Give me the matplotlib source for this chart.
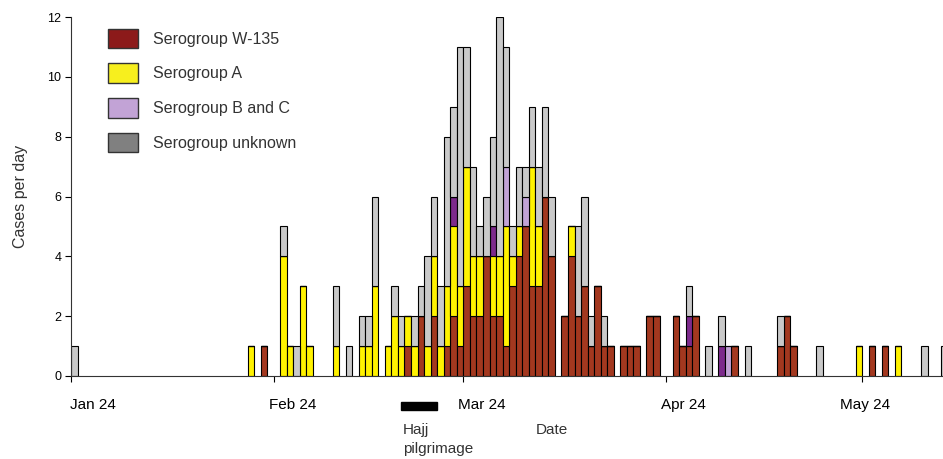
import numpy as np
import matplotlib
matplotlib.use('Agg')
import matplotlib.pyplot as plt
import matplotlib.transforms as mtransforms
from matplotlib.patches import Patch, Rectangle

plt.rcParams['font.family'] = ['Liberation Sans', 'DejaVu Sans']

# day 0 = Jan 24 (2000)
days    = [0, 27, 29, 32, 33, 34, 35, 36, 40, 42, 44, 45, 46, 48, 49, 50, 51, 52, 53, 54,
           55, 56, 57, 58, 59, 60, 61, 62, 63, 64, 65, 66, 67, 68, 69, 70, 71, 72, 73,
           75, 76, 77, 78, 79, 80, 81, 82, 84, 85, 86, 88, 89, 92, 93, 94, 95, 97, 99,
           100, 101, 103, 108, 109, 110, 114, 120, 122, 124, 126, 130, 133]
w135    = [0, 0, 1, 0, 0, 0, 0, 0, 0, 0, 0, 0, 0, 0, 0, 0, 1, 0, 2, 0,
           2, 0, 1, 2, 1, 3, 2, 2, 4, 2, 2, 1, 3, 4, 5, 3, 3, 6, 4,
           2, 4, 2, 3, 1, 3, 1, 1, 1, 1, 1, 2, 2, 2, 1, 1, 2, 0, 0,
           0, 1, 0, 1, 2, 1, 0, 0, 1, 1, 0, 0, 0]
seroA   = [0, 1, 0, 4, 1, 0, 3, 1, 1, 0, 1, 1, 3, 1, 2, 1, 1, 1, 0, 1,
           2, 1, 2, 3, 2, 4, 2, 2, 0, 2, 2, 4, 1, 1, 0, 4, 2, 0, 0,
           0, 1, 0, 0, 0, 0, 0, 0, 0, 0, 0, 0, 0, 0, 0, 0, 0, 0, 0,
           0, 0, 0, 0, 0, 0, 0, 1, 0, 0, 1, 0, 0]
seroB   = [0, 0, 0, 0, 0, 0, 0, 0, 0, 0, 0, 0, 0, 0, 0, 0, 0, 0, 0, 0,
           0, 0, 0, 1, 0, 0, 0, 0, 0, 1, 0, 0, 0, 0, 0, 0, 0, 0, 0,
           0, 0, 0, 0, 0, 0, 0, 0, 0, 0, 0, 0, 0, 0, 0, 1, 0, 0, 1,
           0, 0, 0, 0, 0, 0, 0, 0, 0, 0, 0, 0, 0]
seroC   = [0, 0, 0, 0, 0, 0, 0, 0, 0, 0, 0, 0, 0, 0, 0, 0, 0, 0, 0, 0,
           0, 0, 0, 0, 0, 0, 0, 0, 0, 0, 0, 2, 0, 0, 1, 0, 0, 0, 0,
           0, 0, 0, 0, 0, 0, 0, 0, 0, 0, 0, 0, 0, 0, 0, 0, 0, 0, 0,
           1, 0, 0, 0, 0, 0, 0, 0, 0, 0, 0, 0, 0]
unknown = [1, 0, 0, 1, 0, 1, 0, 0, 2, 1, 1, 1, 3, 0, 1, 1, 0, 1, 1, 3,
           2, 2, 5, 3, 8, 4, 3, 1, 2, 3, 8, 4, 1, 2, 1, 2, 2, 3, 2,
           0, 0, 3, 3, 1, 0, 1, 0, 0, 0, 0, 0, 0, 0, 0, 1, 0, 1, 1,
           0, 0, 1, 1, 0, 0, 1, 0, 0, 0, 0, 1, 1]

tickDays   = [0, 31, 60, 91, 121]
tickLabels = ['Jan 24', 'Feb 24', 'Mar 24', 'Apr 24', 'May 24']
hajjStart, hajjEnd = 50.5, 56.0

series = [(w135, '#a3381f'), (seroA, '#fff200'), (seroB, '#7d2a8c'),
          (seroC, '#c2a3d6'), (unknown, '#c9c9c9')]

fig = plt.figure(figsize=(9.43, 4.59), dpi=100)
ax = fig.add_axes([71/943, 83/459, 872/943, 359/459])

bottom = np.zeros(len(days))
for vals, col in series:
    vals = np.array(vals, dtype=float)
    ax.bar(days, vals, width=1, align='edge', bottom=bottom, color=col,
           edgecolor='black', linewidth=0.8)
    bottom += vals

ax.set_xlim(0, 133.35)
ax.set_ylim(0, 12)
ax.set_yticks(range(0, 13, 2))
ax.tick_params(axis='y', labelsize=9, length=4, direction='out', pad=3)
ax.set_xticks(tickDays)
ax.set_xticklabels(tickLabels, fontsize=11, ha='left')
ax.tick_params(axis='x', length=4, direction='out', pad=12)
# the labels in the original sit a little left of their ticks (May more so)
shifts = [-1, -5, -5, -5, -22]
for lab, dx in zip(ax.get_xticklabels(), shifts):
    off = mtransforms.ScaledTranslation(dx/100, 0, fig.dpi_scale_trans)
    lab.set_transform(lab.get_transform() + off)
for spine in ['top', 'right']:
    ax.spines[spine].set_visible(False)
for spine in ['left', 'bottom']:
    ax.spines[spine].set_color('#333333')
ax.set_ylabel('Cases per day', fontsize=11.5, color='#333333', labelpad=14)

# hajj marker and labels under the axis
trans = ax.get_xaxis_transform()
ax.add_patch(Rectangle((hajjStart, -0.095), hajjEnd - hajjStart, 0.022,
                       transform=trans, color='black', clip_on=False))
ax.text(hajjStart + 0.3, -0.150, 'Hajj', transform=trans, fontsize=11,
        color='#333333', ha='left', va='center')
ax.text(hajjStart + 0.3, -0.203, 'pilgrimage', transform=trans, fontsize=11,
        color='#333333', ha='left', va='center')
ax.text(73.5, -0.150, 'Date', transform=trans, fontsize=11,
        color='#333333', ha='center', va='center')

handles = [Patch(facecolor='#8c1a1a', edgecolor='#333333'),
           Patch(facecolor='#f7ef1e', edgecolor='#333333'),
           Patch(facecolor='#c2a3d6', edgecolor='#333333'),
           Patch(facecolor='#808080', edgecolor='#333333')]
names = ['Serogroup W-135', 'Serogroup A', 'Serogroup B and C', 'Serogroup unknown']
ax.legend(handles, names, loc='upper left', bbox_to_anchor=(0.035, 0.985),
          frameon=False, fontsize=11.5, handlelength=1.9, handleheight=1.5,
          handletextpad=0.9, labelspacing=0.95, borderaxespad=0,
          labelcolor='#333333')

fig.savefig('out.png', dpi=100)
